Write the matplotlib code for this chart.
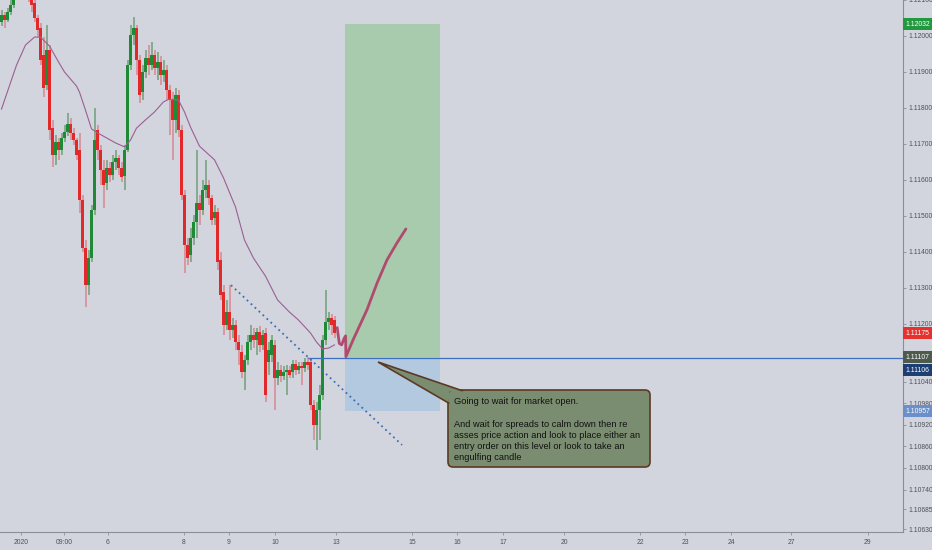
import matplotlib
matplotlib.use("Agg")
import matplotlib.pyplot as plt
import numpy as np
from matplotlib.patches import Rectangle, FancyBboxPatch, Polygon

# ---------------- data ----------------
opens = [1.12039, 1.12058, 1.12044, 1.12067, 1.12086, 1.12114, 1.12128, 1.12122, 1.12133, 1.12117,
         1.12108, 1.12092, 1.12050, 1.12022, 1.11947, 1.11864, 1.11961, 1.11744, 1.11669, 1.11706,
         1.11683, 1.11717, 1.11733, 1.11756, 1.11731, 1.11711, 1.11683, 1.11544, 1.11411, 1.11308,
         1.11383, 1.11517, 1.11739, 1.11683, 1.11628, 1.11592, 1.11633, 1.11614, 1.11650, 1.11661,
         1.11633, 1.11611, 1.11683, 1.11919, 1.12003, 1.12022, 1.11933, 1.11844, 1.11900, 1.11939,
         1.11919, 1.11947, 1.11911, 1.11928, 1.11892, 1.11906, 1.11850, 1.11822, 1.11767, 1.11836,
         1.11739, 1.11558, 1.11419, 1.11392, 1.11439, 1.11483, 1.11536, 1.11517, 1.11572, 1.11586,
         1.11550, 1.11494, 1.11511, 1.11378, 1.11289, 1.11197, 1.11233, 1.11183, 1.11197, 1.11150,
         1.11122, 1.11067, 1.11100, 1.11150, 1.11169, 1.11156, 1.11178, 1.11142, 1.11175, 1.11094,
         1.11114, 1.11142, 1.11050, 1.11072, 1.11056, 1.11067, 1.11072, 1.11067, 1.11089, 1.11072,
         1.11083, 1.11078, 1.11094, 1.11094, 1.10975, 1.10919, 1.10961, 1.11003, 1.11156, 1.11206,
         1.11217, 1.11211]
highs = [1.12072, 1.12067, 1.12078, 1.12100, 1.12128, 1.12156, 1.12156, 1.12156, 1.12156, 1.12142,
         1.12122, 1.12106, 1.12058, 1.12036, 1.11997, 1.12031, 1.11975, 1.11767, 1.11725, 1.11717,
         1.11731, 1.11753, 1.11786, 1.11772, 1.11744, 1.11717, 1.11731, 1.11558, 1.11433, 1.11406,
         1.11531, 1.11800, 1.11753, 1.11697, 1.11656, 1.11656, 1.11650, 1.11669, 1.11683, 1.11669,
         1.11650, 1.11697, 1.11933, 1.12031, 1.12053, 1.12031, 1.11947, 1.11919, 1.11961, 1.11975,
         1.11983, 1.11961, 1.11956, 1.11944, 1.11933, 1.11919, 1.11864, 1.11844, 1.11856, 1.11850,
         1.11753, 1.11572, 1.11439, 1.11467, 1.11503, 1.11683, 1.11558, 1.11600, 1.11656, 1.11600,
         1.11558, 1.11531, 1.11522, 1.11400, 1.11308, 1.11267, 1.11308, 1.11217, 1.11211, 1.11169,
         1.11142, 1.11114, 1.11169, 1.11197, 1.11189, 1.11189, 1.11194, 1.11183, 1.11189, 1.11150,
         1.11169, 1.11156, 1.11094, 1.11086, 1.11083, 1.11086, 1.11083, 1.11100, 1.11100, 1.11094,
         1.11094, 1.11106, 1.11108, 1.11106, 1.10989, 1.10983, 1.11031, 1.11169, 1.11294, 1.11233,
         1.11228, 1.11222]
lows = [1.12028, 1.12022, 1.12039, 1.12058, 1.12078, 1.12100, 1.12100, 1.12106, 1.12100, 1.12094,
        1.12067, 1.12039, 1.11997, 1.11919, 1.11831, 1.11850, 1.11711, 1.11636, 1.11642, 1.11656,
        1.11669, 1.11706, 1.11722, 1.11711, 1.11697, 1.11656, 1.11508, 1.11400, 1.11247, 1.11281,
        1.11372, 1.11503, 1.11656, 1.11586, 1.11522, 1.11572, 1.11594, 1.11600, 1.11628, 1.11614,
        1.11594, 1.11572, 1.11678, 1.11906, 1.11975, 1.11892, 1.11814, 1.11822, 1.11883, 1.11892,
        1.11906, 1.11892, 1.11878, 1.11864, 1.11872, 1.11822, 1.11725, 1.11656, 1.11731, 1.11719,
        1.11544, 1.11342, 1.11364, 1.11372, 1.11419, 1.11439, 1.11475, 1.11503, 1.11550, 1.11531,
        1.11475, 1.11475, 1.11350, 1.11267, 1.11169, 1.11183, 1.11156, 1.11161, 1.11128, 1.11086,
        1.11050, 1.11017, 1.11086, 1.11128, 1.11133, 1.11114, 1.11122, 1.11128, 1.10983, 1.11058,
        1.11094, 1.10961, 1.11031, 1.11039, 1.11044, 1.11003, 1.11050, 1.11050, 1.11058, 1.11061,
        1.11031, 1.11067, 1.11072, 1.10961, 1.10878, 1.10850, 1.10878, 1.10989, 1.11142, 1.11183,
        1.11169, 1.11161]
closes = [1.12058, 1.12044, 1.12067, 1.12086, 1.12114, 1.12128, 1.12122, 1.12133, 1.12117, 1.12108,
          1.12086, 1.12050, 1.12017, 1.11933, 1.11856, 1.11961, 1.11739, 1.11669, 1.11706, 1.11683,
          1.11717, 1.11733, 1.11756, 1.11731, 1.11711, 1.11669, 1.11544, 1.11411, 1.11308, 1.11383,
          1.11517, 1.11711, 1.11683, 1.11628, 1.11586, 1.11633, 1.11614, 1.11650, 1.11661, 1.11633,
          1.11608, 1.11683, 1.11919, 1.12003, 1.12022, 1.11933, 1.11836, 1.11900, 1.11939, 1.11919,
          1.11947, 1.11911, 1.11928, 1.11892, 1.11906, 1.11850, 1.11822, 1.11767, 1.11836, 1.11739,
          1.11558, 1.11419, 1.11383, 1.11439, 1.11483, 1.11536, 1.11517, 1.11572, 1.11586, 1.11550,
          1.11489, 1.11511, 1.11372, 1.11281, 1.11197, 1.11233, 1.11183, 1.11197, 1.11150, 1.11128,
          1.11067, 1.11100, 1.11150, 1.11169, 1.11156, 1.11178, 1.11142, 1.11169, 1.11003, 1.11128,
          1.11156, 1.11050, 1.11072, 1.11056, 1.11067, 1.11072, 1.11058, 1.11089, 1.11072, 1.11083,
          1.11078, 1.11094, 1.11086, 1.10975, 1.10919, 1.10961, 1.11003, 1.11156, 1.11206, 1.11217,
          1.11197, 1.11175]

ma_bars = [0, 5, 8, 11, 13, 16, 19, 21, 25, 26, 28, 30, 32, 35, 38, 41, 43, 45, 48, 51,
           54, 56, 59, 61, 63, 66, 71, 74, 78, 81, 84, 88, 92, 96, 99, 103, 105, 107, 109, 111]
ma_values = [1.11797, 1.11919, 1.11975, 1.11997, 1.11997, 1.11972, 1.11928, 1.11900, 1.11861, 1.11844,
             1.11794, 1.11742, 1.11731, 1.11717, 1.11703, 1.11692, 1.11711, 1.11744, 1.11767, 1.11789,
             1.11817, 1.11825, 1.11822, 1.11789, 1.11747, 1.11694, 1.11656, 1.11606, 1.11525, 1.11433,
             1.11383, 1.11333, 1.11267, 1.11233, 1.11211, 1.11175, 1.11150, 1.11131, 1.11133, 1.11142]

x_tick_labels = ["2020", "09:00", "6", "8", "9", "10", "13", "15", "16", "17",
                 "20", "22", "23", "24", "27", "29"]
x_tick_bars = [6.5, 20.8, 35.5, 60.8, 75.8, 91.2, 111.5, 136.8, 151.8, 167.2,
               187.5, 212.8, 227.8, 243.2, 263.2, 288.8]
y_tick_values = [1.12100, 1.12000, 1.11900, 1.11800, 1.11700, 1.11600, 1.11500, 1.11400,
                 1.11300, 1.11200, 1.11040, 1.10980, 1.10920, 1.10860, 1.10800, 1.10740,
                 1.10685, 1.10630]

target_price = 1.12032
entry_price = 1.11107
stop_price = 1.10957
hline_price = 1.11106
last_price = 1.11175
position_bars = [114.5, 146.2]
hline_start_bar = 102.2

trend_bars = [76.5, 133.5]
trend_prices = [1.11308, 1.10864]

brush_bars = [111.9, 112.6, 113.4, 114.2, 114.7, 114.8, 117.2, 121.8, 125.2, 128.5, 131.8, 134.8]
brush_prices = [1.11190, 1.11146, 1.11142, 1.11160, 1.11167, 1.11109, 1.11156, 1.11239,
                1.11314, 1.11378, 1.11425, 1.11464]

note_text = ("Going to wait for market open.\n\n"
             "And wait for spreads to calm down then re\n"
             "asses price action and look to place either an\n"
             "entry order on this level or look to take an\n"
             "engulfing candle")

badge_prices = [target_price, last_price, entry_price, hline_price, stop_price]
badge_colors = ["#23993f", "#e5322f", "#4e5a4c", "#1d3e73", "#6b8fca"]
badge_shift_px = [0, 0, 0, 12, 0]

# ---------------- style ----------------
BG = "#d2d5dd"
UP = "#1f8a35"
DOWN = "#e3282a"
UP_W = "#6f9f77"
DOWN_W = "#d98890"
AXC = "#8a8e98"
TXT = "#4d515b"
FONT = "Liberation Sans"

W, H = 932, 550
fig = plt.figure(figsize=(W / 100, H / 100), dpi=100)
fig.patch.set_facecolor(BG)
ax = fig.add_axes([0, 18 / H, 903 / W, 532 / H])
ax.set_facecolor(BG)
ax.set_xlim(-0.5, 300.5)
ax.set_ylim(1.12100 - 532 / 36000, 1.12100)

# position tool boxes
ax.add_patch(Rectangle((position_bars[0], entry_price), position_bars[1] - position_bars[0],
                       target_price - entry_price, facecolor="#a8cbad", edgecolor="none", zorder=1))
ax.add_patch(Rectangle((position_bars[0], stop_price), position_bars[1] - position_bars[0],
                       entry_price - stop_price, facecolor="#b3c9df", edgecolor="none", zorder=1))

# candles
idx = np.arange(len(opens))
o = np.array(opens); c = np.array(closes); hi = np.array(highs); lo = np.array(lows)
up = c >= o
ax.vlines(idx[up], lo[up], hi[up], color=UP_W, lw=1.1, zorder=2)
ax.vlines(idx[~up], lo[~up], hi[~up], color=DOWN_W, lw=1.1, zorder=2)
bottoms = np.minimum(o, c)
heights = np.maximum(np.abs(c - o), 0.00002)
ax.bar(idx[up], heights[up], bottom=bottoms[up], width=0.72, color=UP, linewidth=0, zorder=3)
ax.bar(idx[~up], heights[~up], bottom=bottoms[~up], width=0.72, color=DOWN, linewidth=0, zorder=3)

# moving average
ax.plot(ma_bars, ma_values, color="#9b5f93", lw=0.8, zorder=4)

# trend line (dotted)
ax.plot(trend_bars, trend_prices, color="#3d6db3", lw=1.3, ls=(0, (1, 2)), zorder=4)

# horizontal line
ax.hlines(hline_price, hline_start_bar, 300.5, color="#3f6fbf", lw=0.9, zorder=4)

# brush drawing
ax.plot(brush_bars, brush_prices, color="#b04b6d", lw=2.0, solid_capstyle="round",
        solid_joinstyle="round", zorder=5)

# axes styling
for s in ["top", "left"]:
    ax.spines[s].set_visible(False)
for s in ["right", "bottom"]:
    ax.spines[s].set_color(AXC)
    ax.spines[s].set_linewidth(0.8)
ax.yaxis.tick_right()
ax.set_yticks(y_tick_values)
ax.set_yticklabels([f"{v:.5f}" for v in y_tick_values])
ax.set_xticks(x_tick_bars)
ax.set_xticklabels(x_tick_labels)
ax.tick_params(axis="y", length=2.5, width=0.6, color=AXC, labelsize=4.9, labelcolor=TXT, pad=1.5)
ax.tick_params(axis="x", length=2.0, width=0.6, color=AXC, labelsize=4.9, labelcolor=TXT, pad=3)
for lab in ax.get_xticklabels() + ax.get_yticklabels():
    lab.set_family(FONT)

# overlay in pixel coordinates for badges and note
ov = fig.add_axes([0, 0, 1, 1])
ov.set_xlim(0, W)
ov.set_ylim(H, 0)
ov.axis("off")
ov.patch.set_alpha(0)


def price_to_px(p):
    return H - ax.transData.transform((0, p))[1]


for p, col, sh in zip(badge_prices, badge_colors, badge_shift_px):
    yc = price_to_px(p) + sh
    ov.add_patch(Rectangle((903, yc - 6), 29, 12, facecolor=col, edgecolor="none", zorder=10))
    ov.text(905.5, yc + 0.3, f"{p:.5f}", color="white", fontsize=4.9, family=FONT,
            va="center", ha="left", zorder=11)

# note callout
NOTE_FC = "#7b8d70"
NOTE_EC = "#5b3a24"
ov.add_patch(FancyBboxPatch((448, 390), 202, 77, boxstyle="round,pad=0,rounding_size=5",
                            facecolor=NOTE_FC, edgecolor=NOTE_EC, lw=1.2, zorder=6))
tip = (378, 362)
pa = (462, 390.6)
pb = (448.6, 403)
ov.add_patch(Polygon([tip, pa, (449.5, 391.5), pb], closed=True, facecolor=NOTE_FC,
                     edgecolor="none", zorder=7))
ov.plot([pa[0], tip[0], pb[0]], [pa[1], tip[1], pb[1]], color=NOTE_EC, lw=1.2, zorder=8,
        solid_joinstyle="miter")
ov.text(454, 397.5, note_text, fontsize=6.7, family=FONT, color="#111111", va="top",
        ha="left", linespacing=1.3, zorder=9)

fig.savefig("out.png", dpi=100, facecolor=BG)
